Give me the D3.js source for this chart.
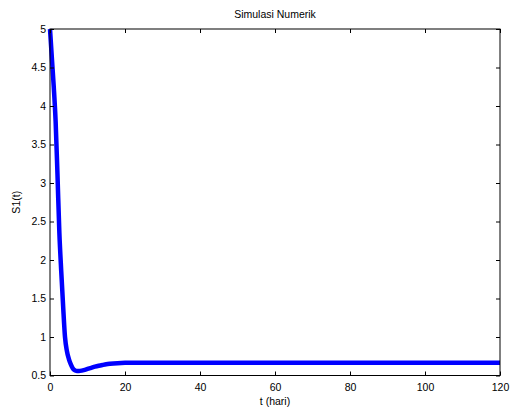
<!DOCTYPE html>
<html>
<head>
<meta charset="utf-8">
<script src="https://cdn.jsdelivr.net/npm/d3@7"></script>
<style>
body { margin: 0; background: #fff; }
text { font-family: Arial, "Liberation Sans", Helvetica, sans-serif; font-size: 10.5px; fill: #000; }
</style>
</head>
<body>
<svg id="chart" width="510" height="409"></svg>
<script>
// S1(t)
var tData = [0, 0.5, 1, 1.5, 2, 2.5, 3, 3.5, 4, 4.5, 5, 5.5, 6, 6.5, 7, 7.5, 8, 9, 10, 11, 12, 13, 14, 15, 16, 18, 20, 30, 40, 50, 60, 70, 80, 90, 100, 110, 120];
var sData = [5, 4.62, 4.25, 3.8, 3.1, 2.35, 1.85, 1.4, 1.0, 0.82, 0.72, 0.65, 0.6, 0.57, 0.56, 0.558, 0.56, 0.57, 0.585, 0.6, 0.615, 0.627, 0.637, 0.646, 0.652, 0.66, 0.664, 0.665, 0.665, 0.665, 0.665, 0.665, 0.665, 0.665, 0.665, 0.665, 0.665];
var xTicks = [0, 20, 40, 60, 80, 100, 120];
var yTicks = [0.5, 1, 1.5, 2, 2.5, 3, 3.5, 4, 4.5, 5];

var mLeft = 50, mRight = 500, mTop = 29, mBottom = 375.5;
var svg = d3.select('#chart');

var x = d3.scaleLinear().domain([0, 120]).range([mLeft, mRight]);
var y = d3.scaleLinear().domain([0.5, 5]).range([mBottom, mTop]);

var pts = tData.map(function(t, i) { return [t, sData[i]]; });

// the curve
svg.append('path')
  .datum(pts)
  .attr('fill', 'none')
  .attr('stroke', '#0000ff')
  .attr('stroke-width', 4.5)
  .attr('stroke-linejoin', 'round')
  .attr('d', d3.line().x(function(d) { return x(d[0]); }).y(function(d) { return y(d[1]); }).curve(d3.curveMonotoneX));

// ticks inward, all four sides
var tl = 4;
var bAxis = d3.axisBottom(x).tickValues(xTicks).tickSizeInner(-tl).tickSizeOuter(0).tickPadding(8);
var tAxis = d3.axisTop(x).tickValues(xTicks).tickSizeInner(-tl).tickSizeOuter(0).tickFormat('');
var lAxis = d3.axisLeft(y).tickValues(yTicks).tickSizeInner(-tl).tickSizeOuter(0).tickPadding(4).tickFormat(d3.format('~g'));
var rAxis = d3.axisRight(y).tickValues(yTicks).tickSizeInner(-tl).tickSizeOuter(0).tickFormat('');

function style(g) {
  g.select('.domain').remove();
  g.selectAll('line').attr('stroke', '#000');
  g.selectAll('text').attr('font-size', null).attr('font-family', null).attr('fill', '#000');
}
svg.append('g').attr('transform', 'translate(0,' + mBottom + ')').call(bAxis).call(style);
svg.append('g').attr('transform', 'translate(0,' + mTop + ')').call(tAxis).call(style);
svg.append('g').attr('transform', 'translate(' + mLeft + ',0)').call(lAxis).call(style);
svg.append('g').attr('transform', 'translate(' + mRight + ',0)').call(rAxis).call(style);

// box
svg.append('rect')
  .attr('x', mLeft).attr('y', mTop)
  .attr('width', mRight - mLeft).attr('height', mBottom - mTop)
  .attr('fill', 'none').attr('stroke', '#000').attr('stroke-width', 1);

svg.append('text').attr('x', (mLeft + mRight) / 2).attr('y', 18).attr('text-anchor', 'middle').text('Simulasi Numerik');
svg.append('text').attr('x', (mLeft + mRight) / 2).attr('y', 405).attr('text-anchor', 'middle').text('t (hari)');
svg.append('text').attr('transform', 'translate(20,' + ((mTop + mBottom) / 2) + ') rotate(-90)').attr('text-anchor', 'middle').text('S1(t)');
</script>
</body>
</html>
